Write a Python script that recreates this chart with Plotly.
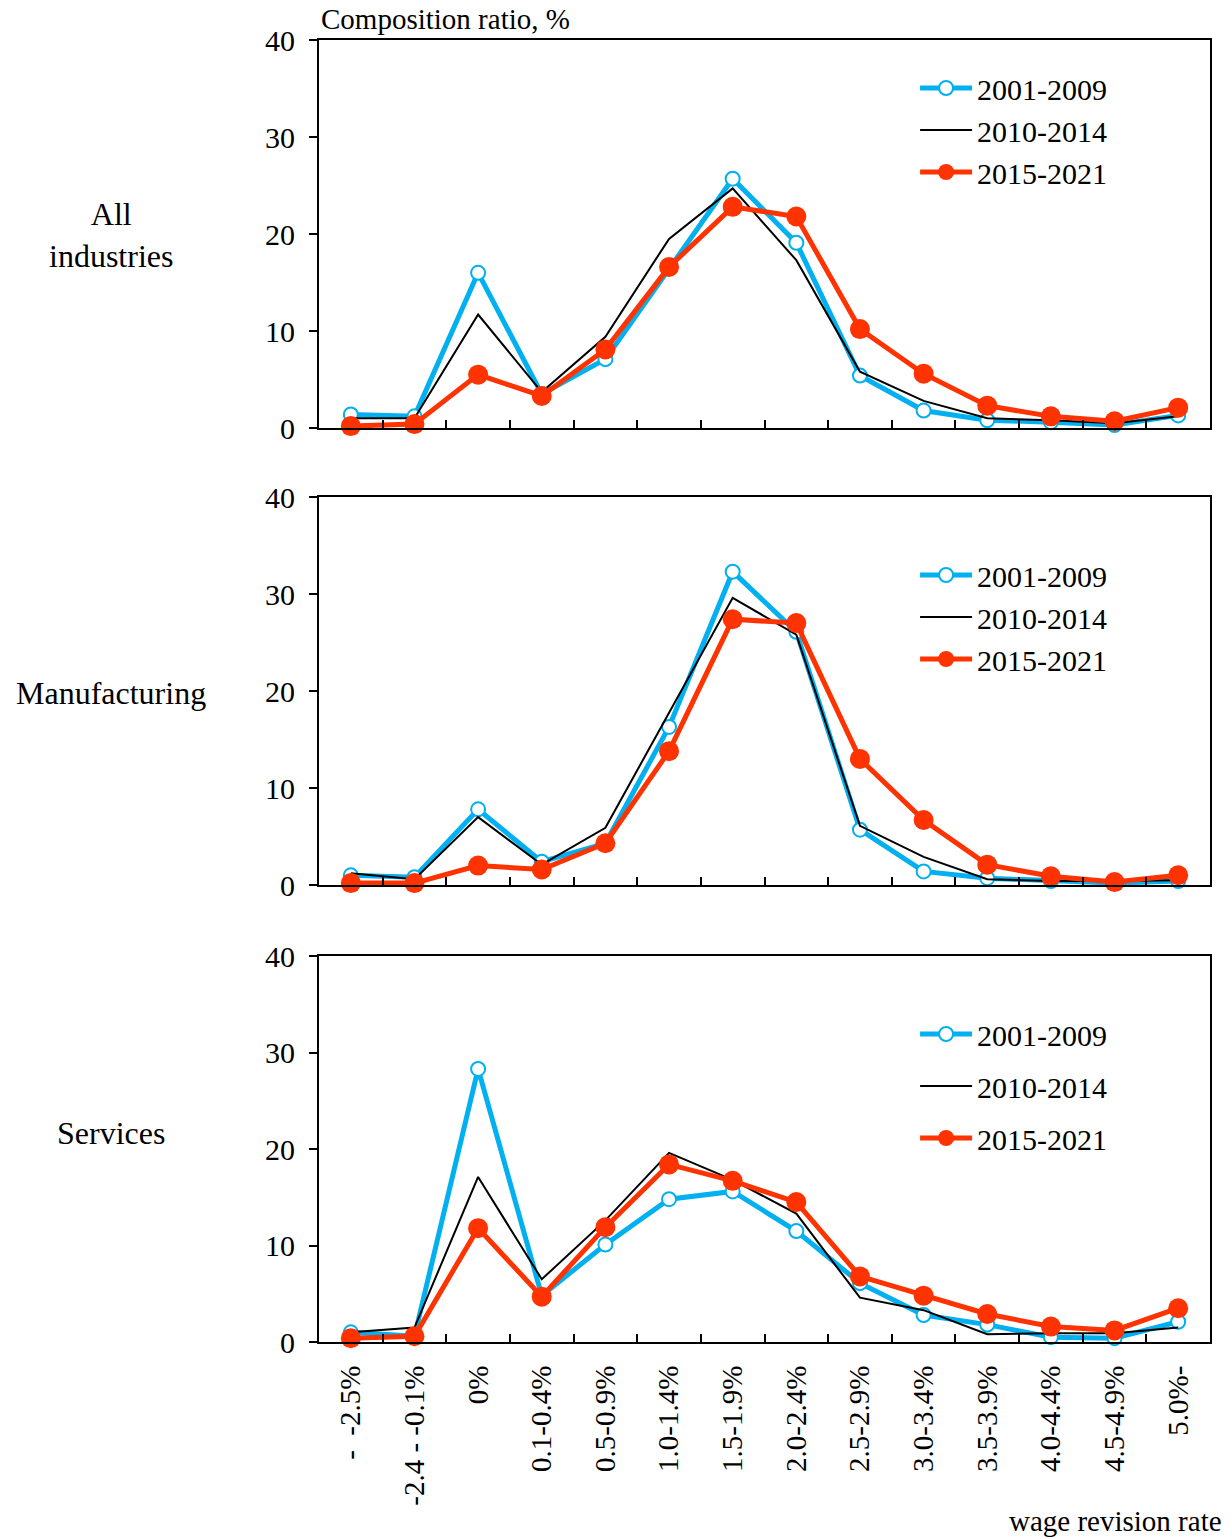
import plotly.graph_objects as go

categories = ["-  -2.5%", "-2.4 - -0.1%", "0%", "0.1-0.4%", "0.5-0.9%", "1.0-1.4%", "1.5-1.9%",
              "2.0-2.4%", "2.5-2.9%", "3.0-3.4%", "3.5-3.9%", "4.0-4.4%", "4.5-4.9%", "5.0%-"]

series_names = ["2001-2009", "2010-2014", "2015-2021"]
panel_names = ["All<br>industries", "Manufacturing", "Services"]

all_2001 = [1.4, 1.2, 16.0, 3.5, 7.1, 16.5, 25.7, 19.1, 5.4, 1.8, 0.8, 0.6, 0.3, 1.3]
all_2010 = [1.0, 1.0, 11.7, 3.7, 9.4, 19.5, 24.7, 17.3, 5.8, 2.8, 1.0, 0.8, 0.5, 1.2]
all_2015 = [0.2, 0.4, 5.5, 3.3, 8.1, 16.6, 22.8, 21.8, 10.2, 5.6, 2.3, 1.2, 0.7, 2.1]

mfg_2001 = [1.0, 0.8, 7.8, 2.4, 4.3, 16.3, 32.3, 26.1, 5.7, 1.4, 0.7, 0.4, 0.2, 0.4]
mfg_2010 = [1.2, 0.6, 7.0, 2.1, 5.9, 17.8, 29.6, 25.8, 6.1, 2.9, 0.6, 0.4, 0.4, 0.5]
mfg_2015 = [0.2, 0.2, 2.0, 1.6, 4.3, 13.8, 27.4, 27.0, 13.0, 6.7, 2.1, 0.9, 0.3, 1.0]

svc_2001 = [1.0, 0.6, 28.3, 4.8, 10.1, 14.8, 15.6, 11.5, 6.1, 2.8, 1.8, 0.5, 0.4, 2.1]
svc_2010 = [1.0, 1.5, 17.1, 6.5, 12.6, 19.6, 16.8, 13.3, 4.6, 3.3, 0.8, 0.9, 0.9, 1.5]
svc_2015 = [0.4, 0.6, 11.8, 4.7, 11.9, 18.4, 16.7, 14.5, 6.8, 4.8, 2.9, 1.6, 1.2, 3.5]

panels = [
    [all_2001, all_2010, all_2015],
    [mfg_2001, mfg_2010, mfg_2015],
    [svc_2001, svc_2010, svc_2015],
]

BLUE = "#00B0F0"
RED = "#FF3300"
FONT = "Liberation Serif"

styles = [
    dict(line=dict(color=BLUE, width=5),
         marker=dict(symbol="circle", size=14, color="white", line=dict(color=BLUE, width=2)),
         mode="lines+markers"),
    dict(line=dict(color="black", width=2), mode="lines"),
    dict(line=dict(color=RED, width=5),
         marker=dict(symbol="circle", size=20, color=RED, line=dict(width=0)),
         mode="lines+markers"),
]

fig = go.Figure()

H = 1539
mt, mb = 40, 197
ph = H - mt - mb
def py(pix):
    return (H - mb - pix) / ph

domains = [(py(428), py(40)), (py(885), py(497)), (py(1342), py(956))]
legend_names = ["legend", "legend2", "legend3"]
legend_tops = [62, 549, 1008]
legend_gaps = [0, 0, 10]

for p, data in enumerate(panels):
    xa = "x" if p == 0 else f"x{p+1}"
    ya = "y" if p == 0 else f"y{p+1}"
    for s, vals in enumerate(data):
        fig.add_trace(go.Scatter(
            x=categories, y=vals, name=series_names[s], xaxis=xa, yaxis=ya,
            legend=legend_names[p], legendgroup=f"g{p}{s}", cliponaxis=False,
            **styles[s]))

layout = dict(
    width=1232, height=H,
    margin=dict(l=319, r=22, t=mt, b=mb),
    paper_bgcolor="white", plot_bgcolor="white",
    font=dict(family=FONT, size=30, color="black"),
    showlegend=True,
)

for p in range(3):
    xk = "xaxis" if p == 0 else f"xaxis{p+1}"
    yk = "yaxis" if p == 0 else f"yaxis{p+1}"
    ya = "y" if p == 0 else f"y{p+1}"
    xa = "x" if p == 0 else f"x{p+1}"
    layout[xk] = dict(
        domain=[0, 1], anchor=ya, type="category", range=[-0.5, 13.5],
        categoryorder="array", categoryarray=categories,
        showline=True, linecolor="black", linewidth=2, mirror=True,
        ticks="inside", tickson="boundaries", ticklen=8, tickwidth=1.5, tickcolor="black",
        showgrid=False, zeroline=False,
        showticklabels=(p == 2), tickangle=-90, ticklabelstandoff=10,
        tickfont=dict(family=FONT, size=29, color="black"),
    )
    layout[yk] = dict(
        domain=list(domains[p]), anchor=xa, range=[0, 40], dtick=10,
        showline=True, linecolor="black", linewidth=2, mirror=True,
        ticks="outside", ticklen=8, tickwidth=2, tickcolor="black",
        showgrid=False, zeroline=False, ticklabelstandoff=8,
        tickfont=dict(family=FONT, size=30, color="black"),
    )
    lk = legend_names[p]
    layout[lk] = dict(
        x=0.669, xanchor="left", y=py(legend_tops[p]), yanchor="top",
        bgcolor="rgba(0,0,0,0)", borderwidth=0, itemwidth=52,
        font=dict(family=FONT, size=30, color="black"),
        traceorder="grouped", tracegroupgap=legend_gaps[p],
    )

fig.update_layout(**layout)

annotations = [
    dict(text="Composition ratio, %", x=0, y=py(19), xref="paper", yref="paper",
         xanchor="left", yanchor="middle", showarrow=False, font=dict(size=29)),
    dict(text="wage revision rate", x=(1224 - 319) / 891, y=py(1521), xref="paper", yref="paper",
         xanchor="right", yanchor="middle", showarrow=False, font=dict(size=29)),
]
label_y = [235, 693, 1133]
for p in range(3):
    annotations.append(dict(text=panel_names[p], x=(111 - 319) / 891, y=py(label_y[p]),
                            xref="paper", yref="paper", xanchor="center", yanchor="middle",
                            showarrow=False, font=dict(size=32)))
fig.update_layout(annotations=annotations)

fig.write_html("out.html", config={"displayModeBar": False},
               post_script="document.body.style.margin='0px';")
